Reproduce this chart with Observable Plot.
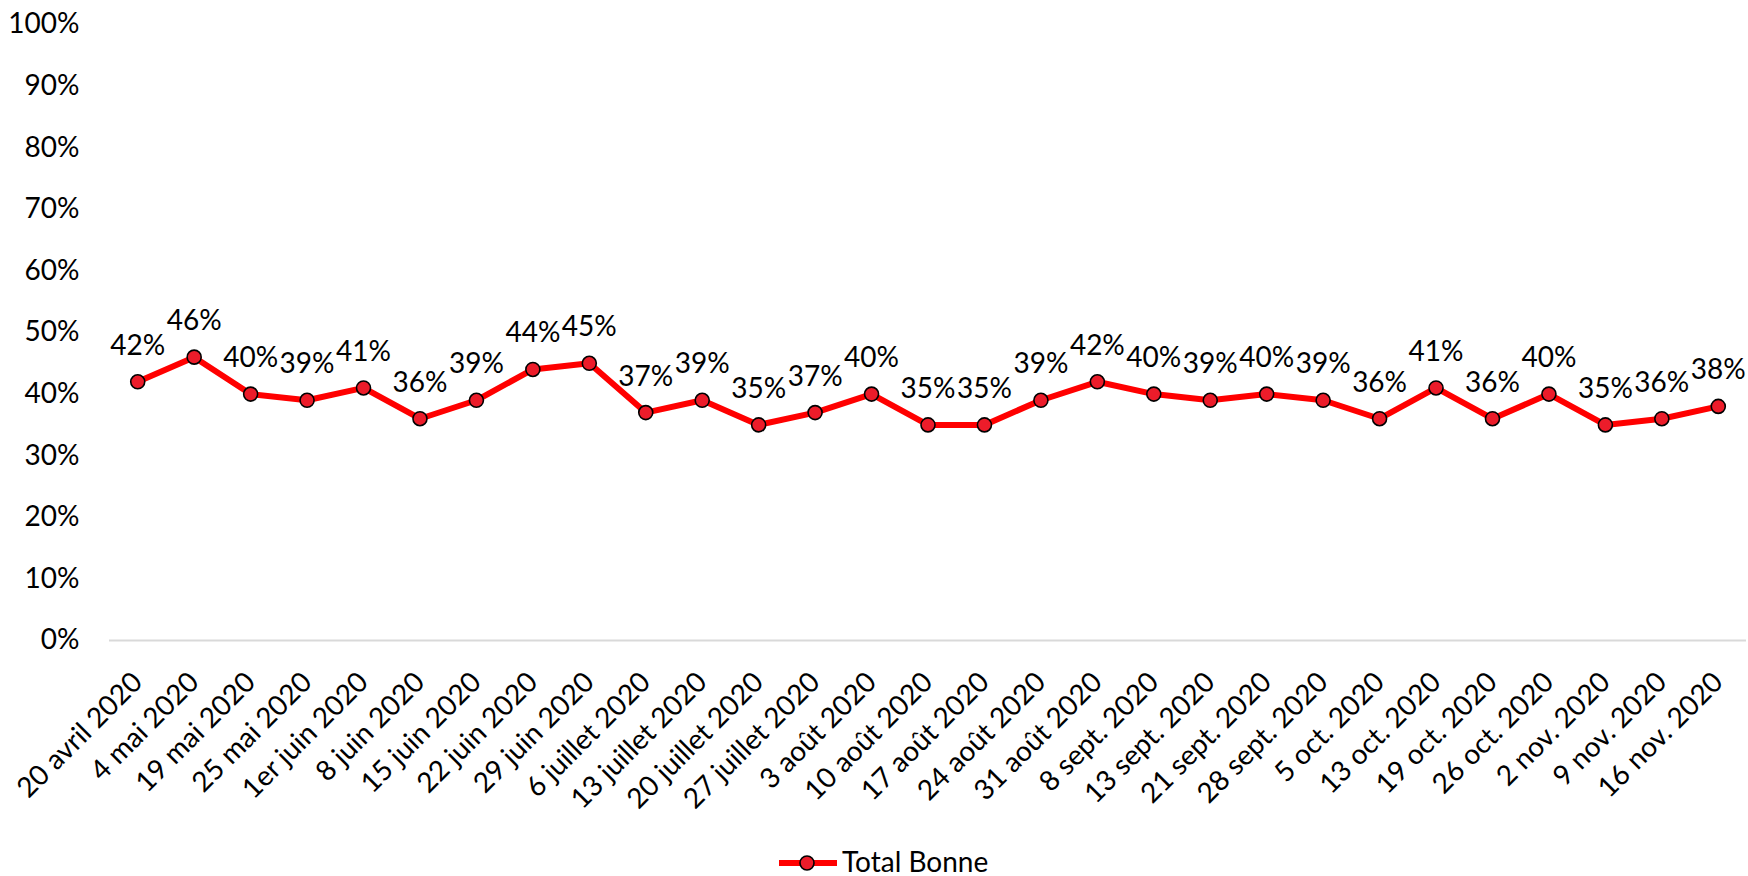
<!DOCTYPE html>
<html>
<head>
<meta charset="utf-8">
<script src="https://cdn.jsdelivr.net/npm/d3@7"></script>
<script src="https://cdn.jsdelivr.net/npm/@observablehq/plot@0.6"></script>
<style>
  html, body { margin: 0; padding: 0; background: #fff; }
  body { width: 1748px; height: 876px; overflow: hidden; font-family: Lato, "Open Sans", sans-serif; }
  #legend { position: relative; width: 1748px; height: 56px; }
  #legend .sym { position: absolute; left: 779px; top: 33px; }
  #legend .lab { position: absolute; left: 842px; top: 27px; font-size: 28px; line-height: 29px; color: #000; white-space: nowrap; }
</style>
</head>
<body>
<div id="chart"></div>
<div id="legend">
  <svg class="sym" width="58" height="20"><line x1="1" y1="10" x2="57" y2="10" stroke="#ff0000" stroke-width="6" stroke-linecap="round"/><circle cx="28" cy="10" r="7" fill="#ec1c2a" stroke="#000" stroke-width="1.6"/></svg>
  <span class="lab">Total Bonne</span>
</div>
<script>
const dates = ["20 avril 2020","4 mai 2020","19 mai 2020","25 mai 2020","1er juin 2020","8 juin 2020","15 juin 2020","22 juin 2020","29 juin 2020","6 juillet 2020","13 juillet 2020","20 juillet 2020","27 juillet 2020","3 août 2020","10 août 2020","17 août 2020","24 août 2020","31 août 2020","8 sept. 2020","13 sept. 2020","21 sept. 2020","28 sept. 2020","5 oct. 2020","13 oct. 2020","19 oct. 2020","26 oct. 2020","2 nov. 2020","9 nov. 2020","16 nov. 2020"];
const totalBonne = [0.42,0.46,0.40,0.39,0.41,0.36,0.39,0.44,0.45,0.37,0.39,0.35,0.37,0.40,0.35,0.35,0.39,0.42,0.40,0.39,0.40,0.39,0.36,0.41,0.36,0.40,0.35,0.36,0.38];
const yTicks = [0,0.1,0.2,0.3,0.4,0.5,0.6,0.7,0.8,0.9,1.0];
const seriesName = "Total Bonne";

const data = dates.map((d, i) => ({date: d, value: totalBonne[i]}));
const pct = d3.format(".0%");

const chart = Plot.plot({
  width: 1748,
  height: 820,
  marginLeft: 109,
  marginRight: 2,
  marginTop: 24,
  marginBottom: 180,
  style: {fontFamily: "Lato, 'Open Sans', sans-serif", fontSize: "28px", color: "#000", background: "#fff"},
  x: {type: "band", domain: dates, padding: 0, round: false},
  y: {domain: [0, 1], ticks: yTicks, tickFormat: pct},
  marks: [
    Plot.axisY({ticks: yTicks, tickFormat: pct, tickSize: 0, tickPadding: 30, label: null, fontSize: 28}),
    Plot.axisX({tickRotate: -45, tickSize: 0, tickPadding: 37, dx: 0, label: null, fontSize: 28}),
    Plot.ruleY([0], {stroke: "#d9d9d9", strokeWidth: 2}),
    Plot.line(data, {x: "date", y: "value", stroke: "#ff0000", strokeWidth: 6, strokeLinejoin: "round"}),
    Plot.dot(data, {x: "date", y: "value", r: 7, fill: "#ec1c2a", stroke: "#000", strokeWidth: 1.6}),
    Plot.text(data, {x: "date", y: "value", text: d => pct(d.value), dy: -27, lineAnchor: "bottom", fontSize: 28, fill: "#000"})
  ]
});
document.getElementById("chart").appendChild(chart);
</script>
</body>
</html>
